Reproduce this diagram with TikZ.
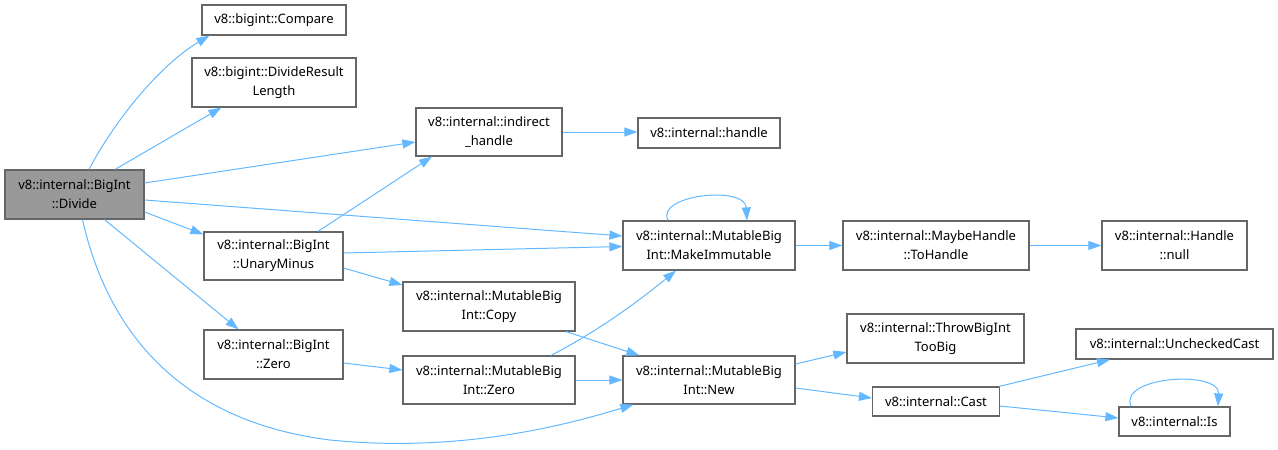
\documentclass[tikz,border=0pt]{standalone}
\usepackage{fontspec}
\setmainfont{Noto Sans}
\usetikzlibrary{arrows.meta,calc}
\definecolor{edgecol}{HTML}{63B8FF}
\definecolor{bordercol}{HTML}{666666}
\definecolor{mainfill}{HTML}{999999}
\tikzset{
  fn/.style={draw=bordercol, line width=1.2pt, fill=white, align=center, inner sep=0pt,
    font=\fontsize{13}{19}\selectfont},
  mainfn/.style={fn, fill=mainfill},
  call/.style={draw=edgecol, line width=1pt, -{Triangle[length=13pt,width=9pt]}},
}
\begin{document}
\begin{tikzpicture}[x=1pt,y=-1pt]
\useasboundingbox (0,0) rectangle (1278,450);
% nodes
\node[mainfn, minimum width=139pt, minimum height=49pt] (divide) at (74.5,194.5) {v8::internal::BigInt\\::Divide};
\node[fn, minimum width=144pt, minimum height=30pt] (compare) at (274,20) {v8::bigint::Compare};
\node[fn, minimum width=164pt, minimum height=49pt] (drl) at (274,82.5) {v8::bigint::DivideResult\\Length};
\node[fn, minimum width=146pt, minimum height=48pt] (ih) at (489,132) {v8::internal::indirect\\\_handle};
\node[fn, minimum width=142pt, minimum height=30pt] (handle) at (709,133) {v8::internal::handle};
\node[fn, minimum width=139pt, minimum height=48pt] (unary) at (273.5,256) {v8::internal::BigInt\\::UnaryMinus};
\node[fn, minimum width=172pt, minimum height=49pt] (copy) at (489,306.5) {v8::internal::MutableBig\\Int::Copy};
\node[fn, minimum width=139pt, minimum height=49pt] (bzero) at (273.5,354.5) {v8::internal::BigInt\\::Zero};
\node[fn, minimum width=172pt, minimum height=48pt] (mzero) at (489,380) {v8::internal::MutableBig\\Int::Zero};
\node[fn, minimum width=172pt, minimum height=49pt] (mi) at (709,245.5) {v8::internal::MutableBig\\Int::MakeImmutable};
\node[fn, minimum width=186pt, minimum height=49pt] (toh) at (936,245.5) {v8::internal::MaybeHandle\\::ToHandle};
\node[fn, minimum width=145pt, minimum height=49pt] (null) at (1174.5,245.5) {v8::internal::Handle\\::null};
\node[fn, minimum width=177pt, minimum height=49pt] (throw) at (935.5,338.5) {v8::internal::ThrowBigInt\\TooBig};
\node[fn, minimum width=172pt, minimum height=48pt] (new) at (709,380) {v8::internal::MutableBig\\Int::New};
\node[fn, minimum width=197pt, minimum height=30pt] (uc) at (1174.5,344) {v8::internal::UncheckedCast};
\node[fn, minimum width=127pt, minimum height=29pt] (cast) at (936,401.5) {v8::internal::Cast};
\node[fn, minimum width=111pt, minimum height=29pt] (is) at (1174.5,421.5) {v8::internal::Is};
% edges
\draw[call] ([xshift=14.5pt]divide.north) .. controls (115,120) and (160,65) .. ([xshift=8pt]compare.south west);
\draw[call] ([xshift=40.5pt]divide.north) -- ([xshift=30pt]drl.south west);
\draw[call] ([yshift=11.5pt]divide.east) -- ([yshift=-10pt]ih.west);
\draw[call] ([yshift=-5.5pt]divide.east) -- ([yshift=9.5pt]mi.west);
\draw[call] ([yshift=-17.5pt]divide.east) -- ([yshift=-3pt]unary.north west);
\draw[call] ([xshift=30pt]divide.south) -- ([xshift=-35pt]bzero.north);
\draw[call] ([xshift=8pt]divide.south) .. controls (105,320) and (170,420) .. (330,440) .. controls (450,452) and (550,430) .. ([xshift=11pt]new.south west);
\draw[call] ([xshift=44.5pt]unary.north) -- ([xshift=-57pt]ih.south);
\draw[call] ([yshift=3pt]unary.east) -- ([yshift=-1pt]mi.west);
\draw[call] ([yshift=-12pt]unary.east) -- ([yshift=21.5pt]copy.west);
\draw[call] ([yshift=-8.5pt]bzero.east) -- ([yshift=10pt]mzero.west);
\draw[call] ([xshift=62pt]mzero.north) .. controls (600,330) and (640,300) .. ([xshift=-33pt]mi.south);
\draw[call] (mzero.east) -- (new.west);
\draw[call] ([xshift=77pt]copy.south) -- ([xshift=17pt]new.north west);
\draw[call] (ih.east) -- (handle.west |- ih.east);
\draw[call] ([xshift=-41pt]mi.north) .. controls (655,195) and (745,185) .. ([xshift=38pt]mi.north);
\draw[call] (mi.east) -- (toh.west);
\draw[call] (toh.east) -- (null.west);
\draw[call] ([yshift=16pt]new.east) -- ([yshift=-13.5pt]throw.west);
\draw[call] ([yshift=-8pt]new.east) -- ([yshift=3.5pt]cast.west);
\draw[call] ([xshift=-1pt]cast.north east) -- ([xshift=-64.5pt]uc.south);
\draw[call] ([yshift=-4.5pt]cast.east) -- ([yshift=3.5pt]is.west);
\draw[call] ([xshift=-43.5pt]is.north) .. controls (1118,376) and (1220,370) .. ([xshift=43.5pt]is.north);
\end{tikzpicture}
\end{document}
